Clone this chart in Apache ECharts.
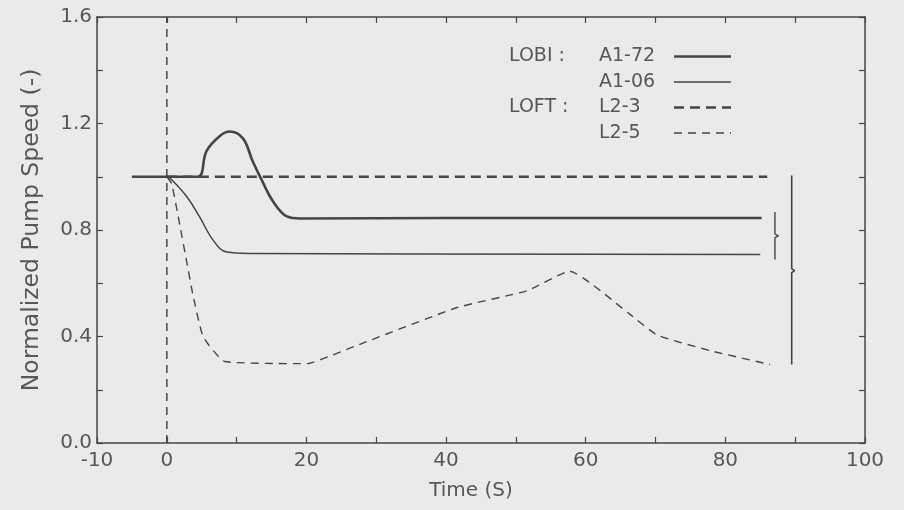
<!DOCTYPE html>
<html>
<head>
<meta charset="utf-8">
<script src="https://cdn.jsdelivr.net/npm/echarts@6/dist/echarts.min.js"></script>
<style>
  html, body { margin: 0; background: #eaeaea; }
  #chart { width: 904px; height: 510px; }
</style>
</head>
<body>
<div id="chart"></div>
<script>
// values (time in s, normalized speed)
var a172Time = [-5, 0, 4.4, 5.7, 7.6, 9.0, 10.9, 12.3, 13.6, 15.2, 17.2, 19.1, 40, 60, 85.2];
var a172Speed = [1.0, 1.0, 1.0, 1.097, 1.153, 1.17, 1.144, 1.058, 0.987, 0.908, 0.851, 0.843, 0.845, 0.845, 0.845];

var a106Time = [0, 0.7, 2.9, 4.7, 6.6, 8.6, 11.9, 85];
var a106Speed = [1.0, 0.989, 0.924, 0.849, 0.763, 0.717, 0.712, 0.708];

var l23Time = [0, 86];
var l23Speed = [1.0, 1.0];

var l25Time = [0, 0.7, 1.9, 2.9, 3.7, 5.2, 8.3, 20.1, 23.4, 26.2, 41.5, 51.6, 57.7, 66.3, 70.2, 77.8, 86.4];
var l25Speed = [1.0, 0.974, 0.813, 0.674, 0.562, 0.40, 0.306, 0.298, 0.327, 0.356, 0.508, 0.572, 0.645, 0.484, 0.406, 0.347, 0.295];

// dashed marker at t = 0 and the two braces on the right
var zeroTime = [0, 0];
var zeroSpeed = [0, 1.6];
var braceLobiTime = [87.1, 87.1, 87.6, 87.1, 87.1];
var braceLobiSpeed = [0.868, 0.785, 0.778, 0.771, 0.689];
var braceAllTime = [89.5, 89.5, 89.9, 89.5, 89.5];
var braceAllSpeed = [1.005, 0.655, 0.647, 0.64, 0.295];

var seriesNames = ['A1-72', 'A1-06', 'L2-3', 'L2-5'];
var groupLabels = ['LOBI :', '', 'LOFT :', ''];

function pairs(xs, ys) {
  return xs.map(function (x, i) { return [x, ys[i]]; });
}

var ink = '#454545';
var txt = '#575757';
var font = 'DejaVu Sans';

// line look per series, shared by the plot and the legend
var styles = {
  'A1-72': { color: ink, width: 2.6 },
  'A1-06': { color: ink, width: 1.5 },
  'L2-3': { color: ink, width: 2.4, type: [10, 6] },
  'L2-5': { color: ink, width: 1.4, type: [8, 6] }
};

var chart = echarts.init(document.getElementById('chart'));

var tickStyle = { show: true, inside: true, length: 6, lineStyle: { color: ink, width: 1.2 } };
var lineAxis = { show: true, onZero: false, lineStyle: { color: ink, width: 1.5 } };

var option = {
  backgroundColor: '#eaeaea',
  animation: false,
  grid: { left: 97, right: 39, top: 17, bottom: 67 },
  legend: {
    data: seriesNames.map(function (n) { return { name: n, lineStyle: styles[n] }; }),
    orient: 'vertical',
    left: 504,
    top: 42,
    align: 'right',
    itemWidth: 57,
    itemHeight: 14,
    itemGap: 6.5,
    selectedMode: false,
    itemStyle: { opacity: 0 },
    formatter: function (name) {
      var g = groupLabels[seriesNames.indexOf(name)];
      return '{g|' + g + '}{n|' + name + '}';
    },
    textStyle: {
      color: txt,
      fontFamily: font,
      fontSize: 19,
      lineHeight: 16,
      rich: {
        g: { width: 90, align: 'left', fontFamily: font, fontSize: 19, color: txt },
        n: { width: 70, align: 'left', fontFamily: font, fontSize: 19, color: txt }
      }
    }
  },
  xAxis: [{
    type: 'value',
    min: -10, max: 100, interval: 10,
    name: 'Time (S)',
    nameLocation: 'middle',
    nameGap: 38,
    nameTextStyle: { color: txt, fontFamily: font, fontSize: 20, padding: [0, 20, 0, 0] },
    axisLine: lineAxis,
    axisTick: tickStyle,
    splitLine: { show: false },
    axisLabel: {
      color: txt, fontFamily: font, fontSize: 20, margin: 8,
      formatter: function (v) { return (v === -10 || v % 20 === 0) ? String(v) : ''; }
    }
  }, {
    type: 'value', position: 'top',
    min: -10, max: 100, interval: 10,
    axisLine: lineAxis, axisTick: tickStyle,
    axisLabel: { show: false }, splitLine: { show: false }
  }],
  yAxis: [{
    type: 'value',
    min: 0, max: 1.6, interval: 0.2,
    name: 'Normalized Pump Speed (-)',
    nameLocation: 'middle',
    nameGap: 53,
    nameTextStyle: { color: txt, fontFamily: font, fontSize: 23.5 },
    axisLine: lineAxis,
    axisTick: tickStyle,
    splitLine: { show: false },
    axisLabel: {
      color: txt, fontFamily: font, fontSize: 20, margin: 5,
      formatter: function (v) { return Math.round(v * 10) % 4 === 0 ? v.toFixed(1) : ''; }
    }
  }, {
    type: 'value', position: 'right',
    min: 0, max: 1.6, interval: 0.2,
    axisLine: lineAxis, axisTick: tickStyle,
    axisLabel: { show: false }, splitLine: { show: false }
  }],
  series: [
    {
      name: 'A1-72', type: 'line', data: pairs(a172Time, a172Speed),
      symbol: 'none', smooth: 0.4,
      lineStyle: styles['A1-72'], itemStyle: { color: ink }
    },
    {
      name: 'A1-06', type: 'line', data: pairs(a106Time, a106Speed),
      symbol: 'none', smooth: 0.4,
      lineStyle: styles['A1-06'], itemStyle: { color: ink }
    },
    {
      name: 'L2-3', type: 'line', data: pairs(l23Time, l23Speed),
      symbol: 'none',
      lineStyle: styles['L2-3'], itemStyle: { color: ink }
    },
    {
      name: 'L2-5', type: 'line', data: pairs(l25Time, l25Speed),
      symbol: 'none', smooth: 0.15,
      lineStyle: styles['L2-5'], itemStyle: { color: ink }
    },
    {
      name: 't0', type: 'line', data: pairs(zeroTime, zeroSpeed),
      symbol: 'none', silent: true,
      lineStyle: { color: ink, width: 1.5, type: [8, 6] }
    },
    {
      name: 'braceLobi', type: 'line', data: pairs(braceLobiTime, braceLobiSpeed),
      symbol: 'none', silent: true,
      lineStyle: { color: ink, width: 1.4 }
    },
    {
      name: 'braceAll', type: 'line', data: pairs(braceAllTime, braceAllSpeed),
      symbol: 'none', silent: true,
      lineStyle: { color: ink, width: 1.6 }
    }
  ]
};

chart.setOption(option);
</script>
</body>
</html>
